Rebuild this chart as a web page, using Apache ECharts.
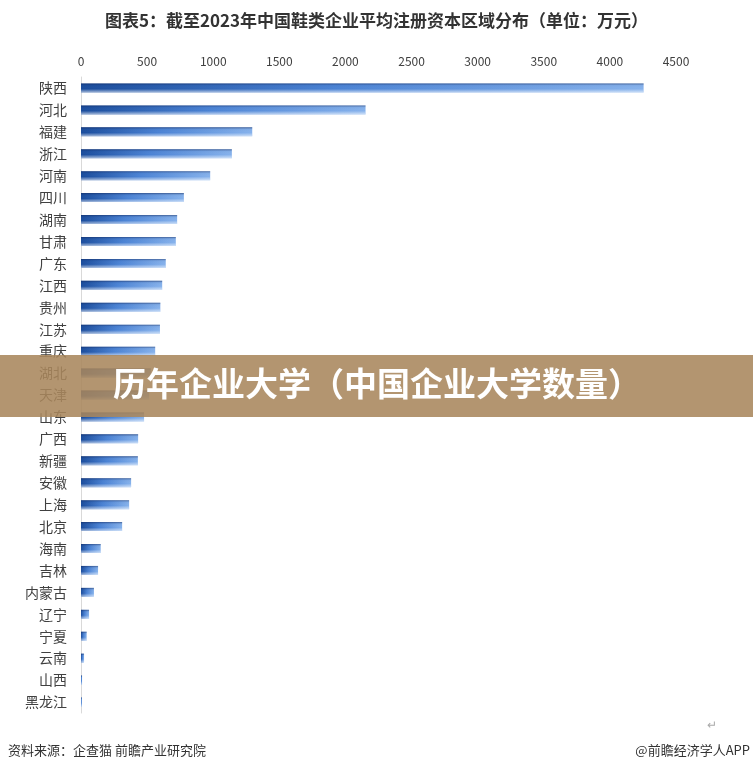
<!DOCTYPE html>
<html><head><meta charset="utf-8">
<script src="https://cdn.jsdelivr.net/npm/echarts@6/dist/echarts.min.js"></script>
<style>html,body{margin:0;padding:0;background:#fff}#c{width:753px;height:773px}</style>
</head><body><div id="c"></div>
<script>
const titleText = '图表5：截至2023年中国鞋类企业平均注册资本区域分布（单位：万元）';
const categories = ['陕西','河北','福建','浙江','河南','四川','湖南','甘肃','广东','江西','贵州','江苏','重庆','湖北','天津','山东','广西','新疆','安徽','上海','北京','海南','吉林','内蒙古','辽宁','宁夏','云南','山西','黑龙江'];
const values = [4255,2152,1295,1141,977,778,727,717,641,614,600,597,561,528,515,477,432,430,379,364,311,149,129,98,61,43,23,8,7];
const axisTicks = {min:0, max:4500, interval:500};
const sourceText = '资料来源：企查猫 前瞻产业研究院';
const brandText = '@前瞻经济学人APP';
const bannerText = '历年企业大学（中国企业大学数量）';

const chart = echarts.init(document.getElementById('c'));
const font = '"Noto Sans CJK SC","Noto Sans",sans-serif';
chart.setOption({
  animation:false,
  textStyle:{fontFamily:font},
  title:{text:titleText,left:'center',top:7,textStyle:{fontSize:17,fontWeight:'bold',color:'#333',fontFamily:font}},
  grid:{left:81,right:77,top:77,bottom:60},
  xAxis:{type:'value',position:'top',min:axisTicks.min,max:axisTicks.max,interval:axisTicks.interval,
    axisLine:{show:false},axisTick:{show:false},splitLine:{show:false},
    axisLabel:{color:'#404040',fontSize:12,margin:10,formatter:v=>String(v)}},
  yAxis:{type:'category',inverse:true,data:categories,
    axisLine:{show:true,lineStyle:{color:'#d9d9d9'}},axisTick:{show:false},
    axisLabel:{color:'#404040',fontSize:14,margin:14}},
  series:[
    {type:'bar',data:values,barWidth:9,
     itemStyle:{color:new echarts.graphic.LinearGradient(0,0,1,0,[{offset:0,color:'#1a4c9c'},{offset:0.45,color:'#4a82d4'},{offset:1,color:'#86b2ec'}])}},
    {type:'bar',data:values,barWidth:9,barGap:'-100%',silent:true,
     itemStyle:{color:new echarts.graphic.LinearGradient(0,0,0,1,[{offset:0,color:'rgba(20,40,90,0.55)'},{offset:0.2,color:'rgba(20,40,90,0.05)'},{offset:0.6,color:'rgba(255,255,255,0)'},{offset:1,color:'rgba(255,255,255,0.6)'}])}}
  ],
  graphic:[
    {type:'text',left:8,top:744,style:{text:sourceText,fontSize:13,fill:'#333',fontFamily:font}},
    {type:'text',right:3,top:744,style:{text:brandText,fontSize:13,fill:'#333',fontFamily:font}},
    {type:'text',left:707,top:718,style:{text:'↵',fontSize:12,fill:'#aaa',fontFamily:font}},
    {type:'rect',left:0,top:355,shape:{width:753,height:62},style:{fill:'rgba(168,134,92,0.88)'},z:100},
    {type:'text',left:113,top:367,z:101,style:{text:bannerText,fontSize:33,fontWeight:'bold',fill:'#fff',fontFamily:font,
      shadowColor:'rgba(0,0,0,0.45)',shadowBlur:3,shadowOffsetX:1,shadowOffsetY:1}}
  ]
});
</script></body></html>
